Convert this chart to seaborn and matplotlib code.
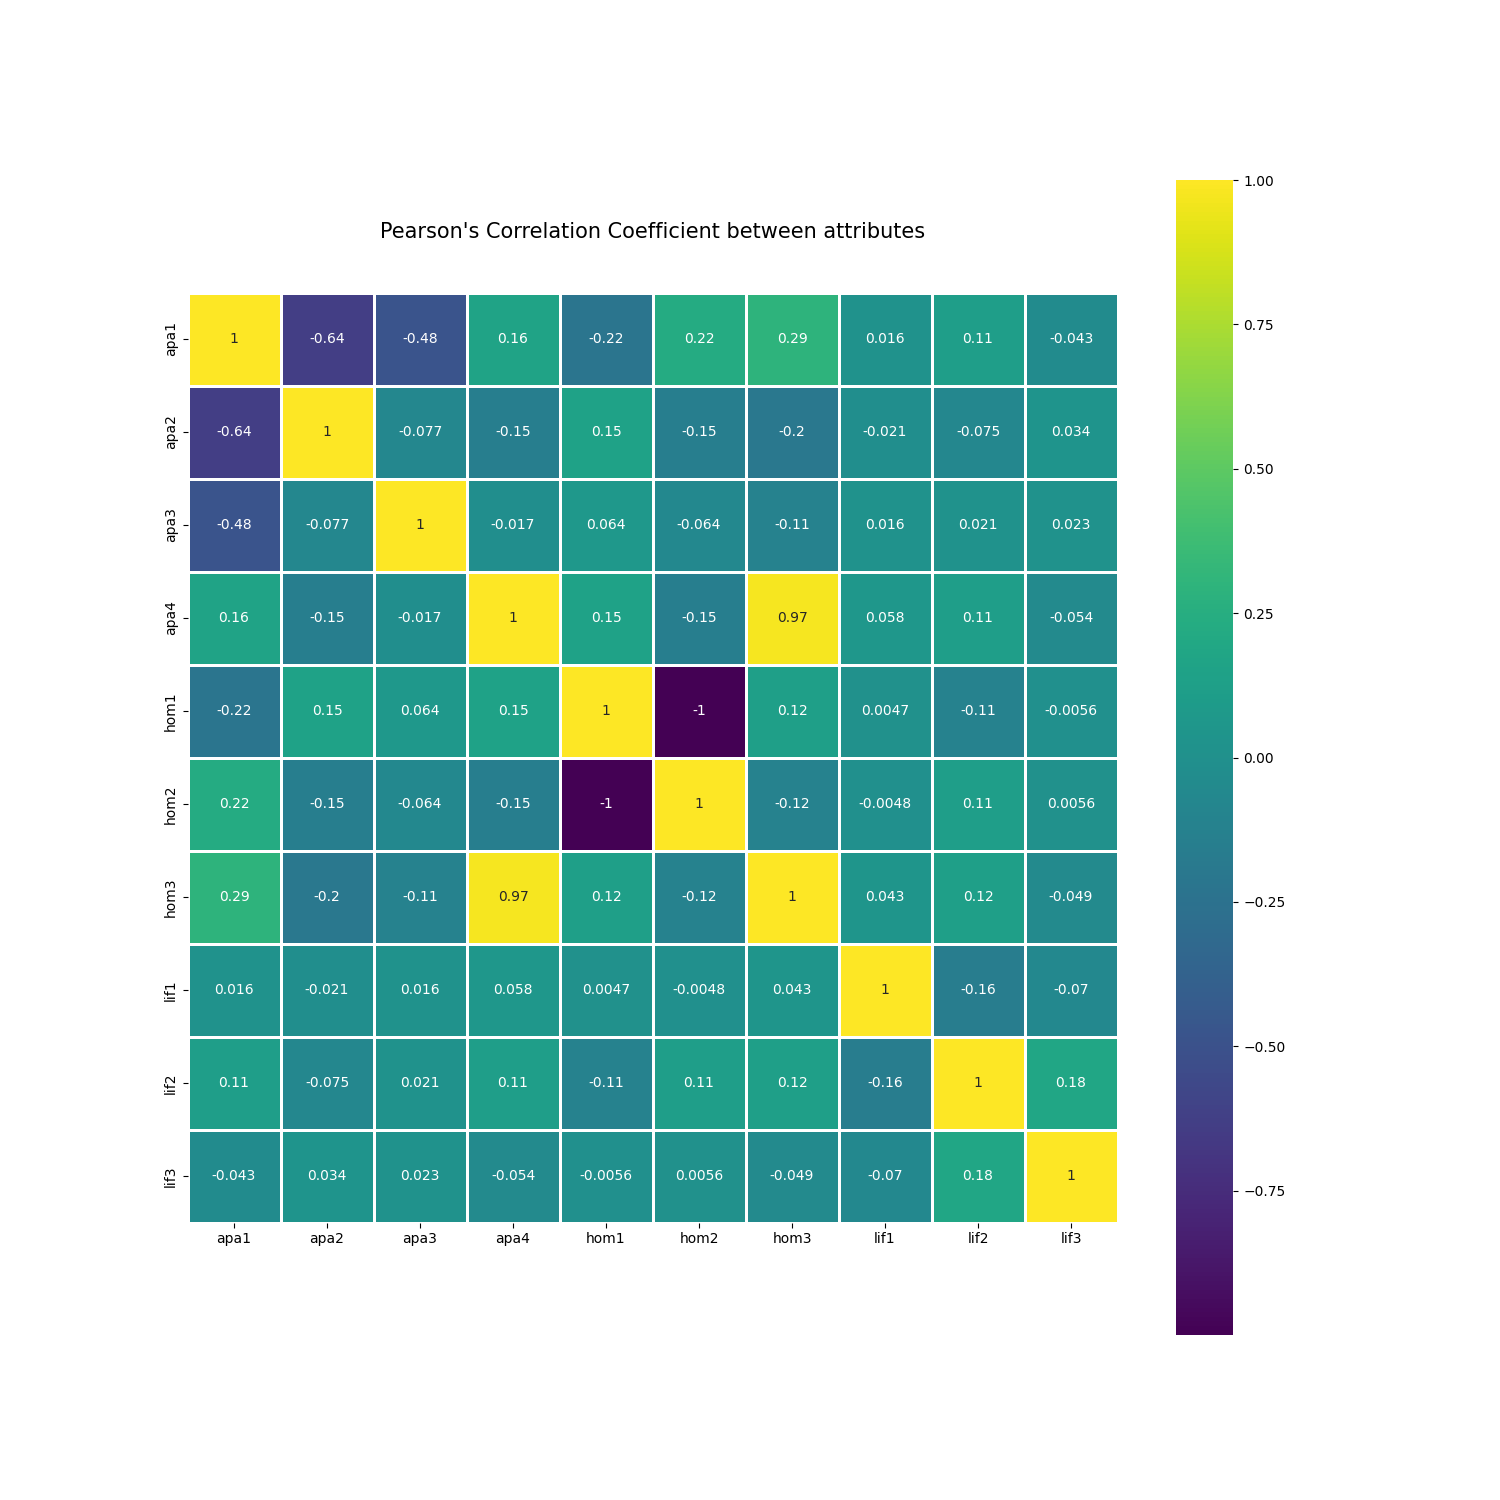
import numpy as np
import pandas as pd
import matplotlib
matplotlib.use("Agg")
import matplotlib.pyplot as plt
import seaborn as sns

# Attribute names
attributes = ["apa1", "apa2", "apa3", "apa4", "hom1", "hom2", "hom3", "lif1", "lif2", "lif3"]

# Pearson correlation values (row by row)
apa1 = [1, -0.64, -0.48, 0.16, -0.22, 0.22, 0.29, 0.016, 0.11, -0.043]
apa2 = [-0.64, 1, -0.077, -0.15, 0.15, -0.15, -0.2, -0.021, -0.075, 0.034]
apa3 = [-0.48, -0.077, 1, -0.017, 0.064, -0.064, -0.11, 0.016, 0.021, 0.023]
apa4 = [0.16, -0.15, -0.017, 1, 0.15, -0.15, 0.97, 0.058, 0.11, -0.054]
hom1 = [-0.22, 0.15, 0.064, 0.15, 1, -0.9998, 0.12, 0.0047, -0.11, -0.0056]
hom2 = [0.22, -0.15, -0.064, -0.15, -0.9998, 1, -0.12, -0.0048, 0.11, 0.0056]
hom3 = [0.29, -0.2, -0.11, 0.97, 0.12, -0.12, 1, 0.043, 0.12, -0.049]
lif1 = [0.016, -0.021, 0.016, 0.058, 0.0047, -0.0048, 0.043, 1, -0.16, -0.07]
lif2 = [0.11, -0.075, 0.021, 0.11, -0.11, 0.11, 0.12, -0.16, 1, 0.18]
lif3 = [-0.043, 0.034, 0.023, -0.054, -0.0056, 0.0056, -0.049, -0.07, 0.18, 1]

corr = pd.DataFrame(
    [apa1, apa2, apa3, apa4, hom1, hom2, hom3, lif1, lif2, lif3],
    index=attributes, columns=attributes,
)

plt.figure(figsize=(15, 15))
plt.title("Pearson's Correlation Coefficient between attributes", y=1.05, size=15)
sns.heatmap(corr, linewidths=1, vmax=1.0, square=True, cmap="viridis",
            linecolor="white", annot=True)
plt.savefig("out.png", dpi=100)
plt.close()
